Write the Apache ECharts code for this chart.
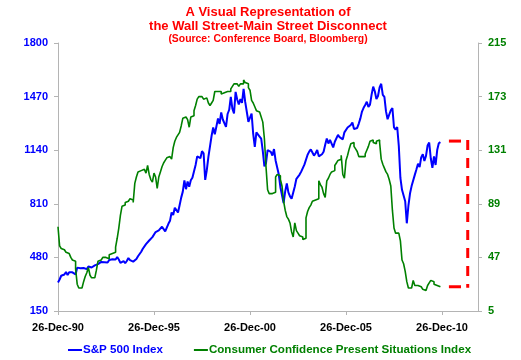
<!DOCTYPE html>
<html><head><meta charset="utf-8">
<script src="https://cdn.jsdelivr.net/npm/echarts@6/dist/echarts.min.js"></script>
<style>html,body{margin:0;padding:0;background:#fff}#c{width:521px;height:360px}</style>
</head><body><div id="c"></div>
<script>
// x: years after 26-Dec-1990, one point per month (k/12)
const xLabels = ['26-Dec-90','26-Dec-95','26-Dec-00','26-Dec-05','26-Dec-10'];
const leftTicks = [150, 480, 810, 1140, 1470, 1800];
const rightTicks = [5, 47, 89, 131, 173, 215];
const seriesNames = ['S&P 500 Index', 'Consumer Confidence Present Situations Index'];

// S&P 500, monthly, Dec-1990 .. Nov-2010
const spx = [326,
 344,367,375,375,390,371,388,395,388,392,375,417,
 409,413,404,415,415,408,424,414,418,419,431,436,
 439,443,452,440,450,451,448,464,459,468,462,467,
 482,467,446,451,457,444,458,476,463,472,454,459,
 470,487,501,515,533,545,562,562,584,582,605,616,
 636,640,646,654,669,671,640,652,687,705,757,741,
 786,791,757,801,848,885,954,900,947,915,955,970,
 980,1049,1102,1112,1091,1134,1121,957,1017,1099,1164,1229,
 1280,1238,1286,1335,1302,1373,1329,1320,1283,1363,1389,1469,
 1395,1366,1499,1452,1421,1455,1431,1518,1437,1429,1315,1320,
 1366,1240,1160,1250,1256,1224,1211,1134,1041,1060,1140,1148,
 1130,1107,1147,1077,1067,990,912,916,815,886,936,880,
 856,841,848,917,964,975,990,1008,996,1051,1058,1112,
 1131,1145,1126,1107,1121,1141,1102,1104,1115,1130,1174,1212,
 1181,1204,1181,1157,1192,1191,1234,1220,1229,1207,1250,1248,
 1280,1281,1295,1311,1270,1270,1277,1304,1336,1378,1401,1418,
 1438,1407,1421,1482,1531,1503,1455,1474,1527,1549,1481,1468,
 1379,1331,1323,1386,1400,1280,1267,1283,1166,969,896,903,
 826,690,798,873,919,919,988,1021,1057,1036,1096,1115,
 1074,1105,1169,1187,1089,1031,1102,1049,1141,1183,1190];

// Consumer Confidence Present Situation Index, monthly, Dec-1990 .. Nov-2010
const cc = [71,
 56,54,53,52,51,50,49,47,45,44,38,26,
 23,23,24,28,32,35,39,33,31,31,31,37,
 44,45,46,47,47,48,46,49,50,49,51,55,
 62,70,80,87,88,90,91,92,93,92,90,105,
 110,114,115,116,116,117,113,119,112,108,106,113,
 110,101,110,114,118,121,123,125,126,125,124,133,
 138,141,143,145,150,156,157,157,155,149,157,158,
 162,166,171,173,173,172,171,172,171,168,166,168,
 170,177,177,176,177,175,176,177,177,176,177,179,
 181,183,183,182,181,183,183,186,184,183,180,178,
 170,168,165,162,161,160,157,153,140,118,100,97,
 97,97,98,110,112,111,108,103,91,84,79,77,
 74,67,63,74,68,66,64,63,61,62,78,83,
 86,88,91,92,92,93,107,104,102,97,94,107,
 109,112,114,115,119,121,123,124,127,112,109,123,
 127,132,136,137,134,132,130,126,126,126,126,128,
 131,134,138,139,137,136,138,139,137,124,120,117,
 114,112,108,103,84,70,66,66,66,60,45,42,
 36,28,23,23,23,29,25,25,25,24,23,22,
 21,22,25,27,29,28,26,25,25,24,24];

const FONT = '"Liberation Sans", Arial, sans-serif';
const spxData = spx.map((v, k) => [k / 12, v]);
const ccData = cc.map((v, k) => [k / 12, v]);

const chart = echarts.init(document.getElementById('c'), null, {renderer: 'canvas'});
const axisLineStyle = {lineStyle: {color: '#b4b4b4', width: 1}};
chart.setOption({
  animation: false,
  backgroundColor: '#ffffff',
  grid: {left: 58, right: 43, top: 43, bottom: 49},
  legend: {
    left: 63, top: 339, itemGap: 31, itemWidth: 14, itemHeight: 2,
    icon: 'rect',
    data: [
      {name: seriesNames[0], textStyle: {color: '#0000ff'}},
      {name: seriesNames[1], textStyle: {color: '#008000'}}
    ],
    textStyle: {fontFamily: FONT, fontSize: 11.6, fontWeight: 'bold', padding: [0,0,0,-4]}
  },
  xAxis: {
    type: 'value', min: 0, max: 21.875, interval: 5,
    splitLine: {show: false},
    axisLine: axisLineStyle,
    axisTick: {show: true, length: 4, lineStyle: {color: '#b4b4b4'}},
    axisLabel: {
      showMaxLabel: false, margin: 11,
      color: '#000', fontFamily: FONT, fontSize: 11, fontWeight: 'bold',
      formatter: v => (Math.abs(v / 5 - Math.round(v / 5)) < 1e-6 ? (xLabels[Math.round(v / 5)] || '') : '')
    }
  },
  yAxis: [
    {
      type: 'value', min: leftTicks[0], max: leftTicks[leftTicks.length - 1],
      interval: leftTicks[1] - leftTicks[0], position: 'left',
      splitLine: {show: false},
      axisLine: {show: true, lineStyle: {color: '#b4b4b4'}},
      axisTick: {show: true, length: 4, lineStyle: {color: '#b4b4b4'}},
      axisLabel: {margin: 10, color: '#0000ff', fontFamily: FONT, fontSize: 11, fontWeight: 'bold',
        formatter: v => String(v)}
    },
    {
      type: 'value', min: rightTicks[0], max: rightTicks[rightTicks.length - 1],
      interval: rightTicks[1] - rightTicks[0], position: 'right',
      splitLine: {show: false},
      axisLine: {show: true, lineStyle: {color: '#b4b4b4'}},
      axisTick: {show: true, length: 4, lineStyle: {color: '#b4b4b4'}},
      axisLabel: {margin: 10, color: '#008000', fontFamily: FONT, fontSize: 11, fontWeight: 'bold',
        formatter: v => String(v)}
    }
  ],
  series: [
    {
      name: seriesNames[0], type: 'line', yAxisIndex: 0, data: spxData,
      showSymbol: false, symbol: 'none',
      lineStyle: {color: '#0000ff', width: 2}, itemStyle: {color: '#0000ff'}
    },
    {
      name: seriesNames[1], type: 'line', yAxisIndex: 1, data: ccData,
      step: 'end', showSymbol: false, symbol: 'none',
      lineStyle: {color: '#008000', width: 1.6}, itemStyle: {color: '#008000'}
    }
  ]
});

// Title texts and the red bracket annotation
const lastT = (spx.length - 1) / 12;
const pTop = chart.convertToPixel({xAxisIndex: 0, yAxisIndex: 0}, [lastT, spx[spx.length - 1]]);
const pBot = chart.convertToPixel({xAxisIndex: 0, yAxisIndex: 1}, [lastT, cc[cc.length - 1]]);
const bx = [20.36, 20.99, 21.34].map(t => chart.convertToPixel({xAxisIndex: 0, yAxisIndex: 0}, [t, 1000])[0]);
const yTop = pTop[1] - 1, yBot = pBot[1];
const red = '#ff0000';
chart.setOption({
  graphic: [
    {type: 'text', x: 268, y: 12, style: {text: 'A Visual Representation of', fill: red, font: 'bold 13px ' + FONT, align: 'center', verticalAlign: 'middle'}},
    {type: 'text', x: 268, y: 26, style: {text: 'the Wall Street-Main Street Disconnect', fill: red, font: 'bold 13px ' + FONT, align: 'center', verticalAlign: 'middle'}},
    {type: 'text', x: 268, y: 39.5, style: {text: '(Source: Conference Board, Bloomberg)', fill: red, font: 'bold 10.4px ' + FONT, align: 'center', verticalAlign: 'middle'}},
    {type: 'line', shape: {x1: bx[0], y1: yTop, x2: bx[1], y2: yTop}, style: {stroke: red, lineWidth: 3}},
    {type: 'line', shape: {x1: bx[0], y1: yBot, x2: bx[1], y2: yBot}, style: {stroke: red, lineWidth: 3}},
    {type: 'line', shape: {x1: bx[2], y1: yTop - 1, x2: bx[2], y2: yBot + 1}, style: {stroke: red, lineWidth: 3, lineDash: [10, 8]}}
  ]
});
</script></body></html>
